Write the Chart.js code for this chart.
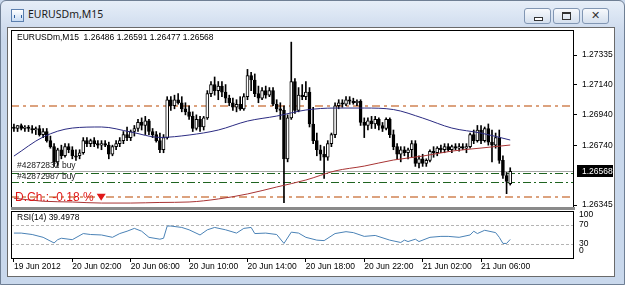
<!DOCTYPE html>
<html>
<head>
<meta charset="UTF-8">
<script src="https://cdn.jsdelivr.net/npm/chart.js@4.4.0/dist/chart.umd.min.js"></script>
<style>
    body {
        margin: 0;
        width: 625px;
        height: 285px;
        overflow: hidden;
        position: relative;
        background: #c9d8ec;
        font-family: "Liberation Sans", Arial, sans-serif;
    }
    #frame {
        position: absolute; left: 0; top: 0; width: 623px; height: 283px;
        border: 1px solid #6f7f94; border-radius: 6px 6px 0 0;
        background: linear-gradient(#e6eef8, #cfdcee 28px, #c9d8ec 40px, #c9d8ec);
    }
    #icon {
        position: absolute; left: 11px; top: 9px; width: 11px; height: 11px;
        border: 1px solid #5b7fae; background: linear-gradient(#ffffff, #c9dcf3);
    }
    #icon:after {
        content: ""; position: absolute; left: 2px; top: 5px; width: 6px; height: 3px;
        border-left: 1px solid #2f5f9f; border-right: 1px solid #2f5f9f;
    }
    #caption {
        position: absolute; left: 28px; top: 7px; font: 10.5px "Noto Sans", sans-serif; color: #1c1c1c;
    }
    .btn {
        position: absolute; top: 8px; width: 25px; height: 14px;
        border: 1px solid #8196b3; border-radius: 3px;
        background: linear-gradient(#f7f9fc, #d5e0ee);
    }
    .btn i { position: absolute; display: block; }
    #pane {
        position: absolute; left: 7px; top: 27px; width: 606px; height: 248px;
        background: #fff; border: 1px solid #6a6a6a;
    }
    canvas { position: absolute; left: 0; }
    #main { top: 28px; }
    #rsi { top: 210px; }
</style>
</head>
<body>
<div id="frame"></div>
<div id="icon"></div>
<div id="caption"></div>
<div class="btn" style="left:524px"><i style="left:9px;top:8px;width:7px;height:2px;border:1px solid #333;background:#fff"></i></div>
<div class="btn" style="left:553px"><i style="left:8px;top:3px;width:7px;height:5px;border:1px solid #333;border-top-width:2px"></i></div>
<div class="btn" style="left:582px"><i style="left:8px;top:0px;font:11px 'DejaVu Sans';color:#333">✕</i></div>
<div id="pane"></div>
<canvas id="main" width="614" height="182"></canvas>
<canvas id="rsi" width="614" height="66"></canvas>

<script>
    const symbol = 'EURUSDm,M15';
    const timeLabels = ['19 Jun 2012', '20 Jun 02:00', '20 Jun 06:00', '20 Jun 10:00', '20 Jun 14:00',
                        '20 Jun 18:00', '20 Jun 22:00', '21 Jun 02:00', '21 Jun 06:00'];
    const timeIdx = [0, 16, 32, 48, 64, 80, 96, 112, 128];
    const priceTicks = [1.27335, 1.27140, 1.26940, 1.26740, 1.26345];

    // M15 candles, 19 Jun 22:00 .. 21 Jun 08:00
    const opens = [
        1.2686,1.2685,1.2687,1.2685,1.2686,1.2685,1.2684,1.2685,1.2681,1.2683,
        1.2677,1.2673,1.2663,1.2671,1.2667,1.2673,1.2671,1.2667,1.2667,1.2669,
        1.2677,1.2675,1.2677,1.2675,1.2674,1.2675,1.2674,1.2668,1.2673,1.2675,
        1.2677,1.2681,1.2679,1.2683,1.2685,1.2689,1.2687,1.2690,1.2683,1.2681,
        1.2677,1.2671,1.2679,1.2704,1.2700,1.2704,1.2702,1.2698,1.2696,1.2693,
        1.2685,1.2691,1.2686,1.2692,1.2708,1.2714,1.2710,1.2713,1.2709,1.2705,
        1.2702,1.2699,1.2701,1.2698,1.2706,1.2720,1.2717,1.2708,1.2705,1.2710,
        1.2707,1.2710,1.2701,1.2698,1.2697,1.2665,1.2692,1.2716,1.2697,1.2707,
        1.2706,1.2709,1.2688,1.2677,1.2671,1.2668,1.2666,1.2675,1.2681,1.2700,
        1.2702,1.2701,1.2704,1.2703,1.2702,1.2703,1.2689,1.2687,1.2690,1.2688,
        1.2691,1.2687,1.2685,1.2691,1.2681,1.2673,1.2668,1.2671,1.2669,1.2671,
        1.2675,1.2662,1.2665,1.2662,1.2664,1.2670,1.2669,1.2672,1.2671,1.2673,
        1.2671,1.2673,1.2672,1.2673,1.2672,1.2673,1.2681,1.2677,1.2684,1.2677,
        1.2685,1.2676,1.2674,1.2679,1.2664,1.2654,1.26486];
    const highs = [
        1.2688,1.2687,1.2688,1.2687,1.2687,1.2687,1.2686,1.2687,1.2685,1.2685,
        1.2680,1.2675,1.2672,1.2674,1.2675,1.2675,1.2673,1.2671,1.2671,1.2679,
        1.2679,1.2678,1.2679,1.2677,1.2677,1.2677,1.2676,1.2674,1.2677,1.2679,
        1.2683,1.2686,1.2684,1.2687,1.2691,1.2692,1.2693,1.2691,1.2685,1.2683,
        1.2682,1.2681,1.2706,1.2706,1.2707,1.2708,1.2706,1.2702,1.2700,1.2696,
        1.2694,1.2693,1.2693,1.2710,1.2716,1.2719,1.2716,1.2716,1.2714,1.2707,
        1.2705,1.2704,1.2706,1.2708,1.2724,1.2722,1.2721,1.2713,1.2712,1.2713,
        1.2712,1.2712,1.2704,1.2702,1.2700,1.2694,1.2742,1.2718,1.2712,1.2714,
        1.2716,1.2712,1.2699,1.2682,1.2674,1.2673,1.2677,1.2682,1.2702,1.2704,
        1.2704,1.2706,1.2706,1.2705,1.2704,1.2704,1.2692,1.2692,1.2693,1.2693,
        1.2692,1.2689,1.2692,1.2692,1.2684,1.2675,1.2673,1.2673,1.2672,1.2677,
        1.2677,1.2667,1.2668,1.2665,1.2671,1.2673,1.2673,1.2674,1.2675,1.2675,
        1.2674,1.2675,1.2675,1.2675,1.2675,1.2682,1.2684,1.2687,1.2687,1.2686,
        1.2688,1.2684,1.2682,1.2684,1.2667,1.2656,1.26591];
    const lows = [
        1.2683,1.2683,1.2684,1.2683,1.2683,1.2682,1.2681,1.2680,1.2679,1.2676,
        1.2672,1.2660,1.2660,1.2665,1.2666,1.2669,1.2665,1.2664,1.2665,1.2668,
        1.2673,1.2673,1.2673,1.2672,1.2671,1.2673,1.2665,1.2667,1.2671,1.2673,
        1.2675,1.2677,1.2677,1.2680,1.2683,1.2684,1.2681,1.2681,1.2679,1.2676,
        1.2669,1.2669,1.2678,1.2697,1.2698,1.2701,1.2696,1.2694,1.2691,1.2683,
        1.2684,1.2683,1.2684,1.2691,1.2706,1.2707,1.2704,1.2706,1.2702,1.2700,
        1.2697,1.2696,1.2697,1.2697,1.2704,1.2710,1.2706,1.2702,1.2704,1.2705,
        1.2706,1.2700,1.2696,1.2691,1.2636,1.2663,1.2691,1.2695,1.2696,1.2704,
        1.2704,1.2686,1.2675,1.2667,1.2664,1.2652,1.2664,1.2673,1.2679,1.2698,
        1.2699,1.2700,1.2701,1.2701,1.2700,1.2687,1.2679,1.2684,1.2685,1.2685,
        1.2684,1.2683,1.2684,1.2679,1.2671,1.2665,1.2663,1.2667,1.2665,1.2666,
        1.2660,1.2659,1.2660,1.2660,1.2663,1.2666,1.2667,1.2669,1.2669,1.2670,
        1.2669,1.2671,1.2670,1.2671,1.2669,1.2672,1.2675,1.2676,1.2675,1.2676,
        1.2674,1.2663,1.2672,1.2662,1.2652,1.2642,1.26477];
    const closes = [
        1.2685,1.2687,1.2685,1.2686,1.2685,1.2684,1.2685,1.2681,1.2683,1.2677,
        1.2673,1.2663,1.2671,1.2667,1.2673,1.2671,1.2667,1.2666,1.2669,1.2677,
        1.2675,1.2677,1.2675,1.2674,1.2675,1.2674,1.2668,1.2673,1.2675,1.2677,
        1.2681,1.2679,1.2683,1.2685,1.2689,1.2687,1.2690,1.2683,1.2681,1.2677,
        1.2671,1.2679,1.2704,1.2700,1.2704,1.2702,1.2698,1.2696,1.2693,1.2685,
        1.2691,1.2686,1.2692,1.2708,1.2714,1.2710,1.2713,1.2709,1.2705,1.2702,
        1.2699,1.2701,1.2698,1.2706,1.2720,1.2717,1.2708,1.2705,1.2710,1.2707,
        1.2710,1.2701,1.2698,1.2697,1.2665,1.2692,1.2716,1.2697,1.2707,1.2706,
        1.2709,1.2688,1.2677,1.2671,1.2668,1.2666,1.2675,1.2681,1.2700,1.2702,
        1.2701,1.2704,1.2703,1.2702,1.2703,1.2689,1.2687,1.2690,1.2688,1.2691,
        1.2687,1.2685,1.2691,1.2681,1.2673,1.2668,1.2671,1.2669,1.2671,1.2675,
        1.2662,1.2665,1.2662,1.2664,1.2670,1.2669,1.2672,1.2671,1.2673,1.2671,
        1.2673,1.2672,1.2673,1.2672,1.2673,1.2681,1.2677,1.2684,1.2677,1.2685,
        1.2676,1.2674,1.2679,1.2664,1.2654,1.2650,1.26568];

    // moving averages, read every 8 bars
    const maIdx = [0, 8, 16, 24, 32, 40, 48, 56, 64, 72, 80, 88, 96, 104, 112, 120, 128, 136];
    const maBlue = [1.26668,1.26794,1.26853,1.26860,1.26827,1.26791,1.26807,1.26840,1.26899,
                    1.26932,1.26972,1.26985,1.26985,1.26975,1.26919,1.26853,1.26820,1.26774];
    const maRed = [1.26390,1.26370,1.26365,1.26358,1.26358,1.26362,1.26365,1.26385,1.26418,
                   1.26464,1.26510,1.26570,1.26602,1.26642,1.26668,1.26701,1.26721,1.26741];

    const pivotLevels = [1.27000, 1.26400];
    const orderPrices = [1.26554, 1.26495];
    const orderLabels = ['#42872832 buy', '#42872987 buy'];
    const dayChange = 'D.Ch.: -0.18 %';

    const rsiIdx = [0,2,5,8,11,12,13,16,19,21,24,27,29,31,33,35,37,40,41,42,43,46,48,51,53,55,58,61,63,65,66,
                    69,72,74,76,78,80,83,85,88,91,93,96,99,103,106,107,108,110,111,114,117,119,122,125,126,127,
                    129,132,133,134,135,136];
    const rsiVals = [53,53,50,44,32,39,42,39,52,50,49,44,52,57,63,57,44,40,42,68,68,65,60,49,60,65,60,53,63,65,52,
                     53,50,31,55,53,44,38,37,52,56,54,46,48,38,33,38,35,40,35,44,46,46,44,49,57,52,
                     59,54,44,31,31,39.4978];
    const rsiLevels = [70, 30];
    const rsiTicks = [100, 70, 30, 0];

    const FONT = '"Liberation Sans", Arial, sans-serif';
    const X_MIN = -0.8, X_MAX = 153.2;
    const last = closes.length - 1;

    document.getElementById('caption').textContent = symbol;

    function hline(ctx, a, y) {
        ctx.beginPath();
        ctx.moveTo(a.left, y);
        ctx.lineTo(a.right, y);
        ctx.stroke();
    }
    function frame(ctx, a) {
        ctx.strokeStyle = '#000';
        ctx.lineWidth = 1;
        ctx.setLineDash([]);
        ctx.strokeRect(Math.round(a.left) + 0.5, Math.round(a.top) + 0.5,
                       Math.round(a.right - a.left), Math.round(a.bottom - a.top));
    }

    const mainOverlay = {
        id: 'mainOverlay',
        beforeDatasetsDraw(chart) {
            const {ctx, chartArea: a, scales: {y}} = chart;
            const py = v => Math.round(y.getPixelForValue(v)) + 0.5;
            ctx.save();
            ctx.lineWidth = 2;
            ctx.strokeStyle = '#dca27e';
            ctx.setLineDash([8, 4, 3, 4]);
            pivotLevels.forEach(p => hline(ctx, a, Math.round(y.getPixelForValue(p))));
            ctx.lineWidth = 1;
            ctx.strokeStyle = '#1f6420';
            ctx.setLineDash([8, 3, 2, 3]);
            orderPrices.forEach(p => hline(ctx, a, py(p)));
            ctx.setLineDash([]);
            ctx.strokeStyle = '#a8a8a8';
            hline(ctx, a, py(closes[last]));
            ctx.restore();
        },
        afterDraw(chart) {
            const {ctx, chartArea: a, scales: {y}} = chart;
            ctx.save();
            frame(ctx, a);
            // panel separator
            ctx.fillStyle = '#8a8a8a';
            ctx.fillRect(a.left, Math.round(a.bottom), a.right - a.left + 2, 3);

            ctx.textBaseline = 'middle';
            ctx.textAlign = 'left';
            ctx.fillStyle = '#000';
            ctx.font = '8.5px ' + FONT;
            const ohlc = [opens[last], highs[last], lows[last], closes[last]].map(v => v.toFixed(5)).join(' ');
            ctx.fillText(symbol + '  ' + ohlc, a.left + 6, a.top + 8);

            ctx.fillStyle = '#222';
            ctx.fillText(orderLabels[0], a.left + 6, y.getPixelForValue(orderPrices[0]) - 8);
            ctx.fillText(orderLabels[1], a.left + 6, y.getPixelForValue(orderPrices[1]) - 5.5);

            // daily change
            ctx.font = '12px ' + FONT;
            ctx.fillStyle = '#e01818';
            const dy = y.getPixelForValue(pivotLevels[1]) + 1;
            ctx.fillText(dayChange, a.left + 4, dy);
            const tx = a.left + 4 + ctx.measureText(dayChange).width + 3;
            ctx.beginPath();
            ctx.moveTo(tx, dy - 4);
            ctx.lineTo(tx + 9, dy - 4);
            ctx.lineTo(tx + 4.5, dy + 3);
            ctx.closePath();
            ctx.fill();

            // current price box
            const by = Math.round(y.getPixelForValue(closes[last]));
            ctx.fillStyle = '#000';
            ctx.fillRect(a.right + 4, by - 6, 36, 12);
            ctx.fillStyle = '#fff';
            ctx.font = '8.5px ' + FONT;
            ctx.fillText(closes[last].toFixed(5), a.right + 9, by + 0.5);
            ctx.restore();
        }
    };

    const rsiOverlay = {
        id: 'rsiOverlay',
        beforeDatasetsDraw(chart) {
            const {ctx, chartArea: a, scales: {y}} = chart;
            ctx.save();
            ctx.strokeStyle = '#b4b4b4';
            ctx.lineWidth = 1;
            ctx.setLineDash([3, 2]);
            rsiLevels.forEach(v => hline(ctx, a, Math.round(y.getPixelForValue(v)) + 0.5));
            ctx.restore();
        },
        afterDraw(chart) {
            const {ctx, chartArea: a, scales: {y}} = chart;
            ctx.save();
            frame(ctx, a);
            ctx.fillStyle = '#000';
            ctx.font = '8.5px ' + FONT;
            ctx.textBaseline = 'middle';
            ctx.fillText('RSI(14) ' + rsiVals[rsiVals.length - 1].toFixed(4), a.left + 6, a.top + 7);
            rsiTicks.forEach(v => {
                const py = Math.min(Math.max(y.getPixelForValue(v), a.top + 4), a.bottom - 7);
                ctx.fillText(String(v), a.right + 6, py);
            });
            ctx.restore();
        }
    };

    new Chart(document.getElementById('main'), {
        type: 'bar',
        data: {
            datasets: [{
                type: 'line',
                data: maIdx.map((x, i) => ({x: x, y: maBlue[i]})),
                borderColor: '#2b2b82',
                borderWidth: 1,
                pointRadius: 0,
                cubicInterpolationMode: 'monotone',
                order: 0
            }, {
                type: 'line',
                data: maIdx.map((x, i) => ({x: x, y: maRed[i]})),
                borderColor: '#a83434',
                borderWidth: 1,
                pointRadius: 0,
                cubicInterpolationMode: 'monotone',
                order: 1
            }, {
                data: opens.map((o, i) => ({x: i, y: [o, closes[i]]})),
                barThickness: 3,
                borderWidth: 1,
                borderColor: '#000',
                borderSkipped: false,
                backgroundColor: c => closes[c.dataIndex] >= opens[c.dataIndex] ? '#fff' : '#000',
                grouped: false,
                order: 2
            }, {
                data: opens.map((o, i) => ({x: i, y: [lows[i], highs[i]]})),
                barThickness: 1,
                backgroundColor: '#000',
                grouped: false,
                order: 3
            }]
        },
        options: {
            responsive: false,
            animation: false,
            layout: {padding: {left: 11, top: 2, right: 0, bottom: 3}},
            plugins: {legend: {display: false}, tooltip: {enabled: false}},
            scales: {
                x: {type: 'linear', min: X_MIN, max: X_MAX, offset: false, display: false},
                y: {
                    position: 'right',
                    min: 1.26332,
                    max: 1.27500,
                    afterBuildTicks: s => { s.ticks = priceTicks.map(v => ({value: v})); },
                    afterFit: s => { s.width = 41; s.paddingTop = 0; s.paddingBottom = 0; },
                    grid: {drawOnChartArea: false, tickLength: 4, color: '#000'},
                    border: {display: false},
                    ticks: {
                        padding: 5,
                        color: '#000',
                        font: {family: FONT, size: 8.5, lineHeight: 1},
                        callback: v => v.toFixed(5)
                    }
                }
            }
        },
        plugins: [mainOverlay]
    });

    new Chart(document.getElementById('rsi'), {
        type: 'line',
        data: {
            datasets: [{
                data: rsiIdx.map((x, i) => ({x: x, y: rsiVals[i]})),
                borderColor: '#4a82b6',
                borderWidth: 1,
                pointRadius: 0,
                tension: 0
            }]
        },
        options: {
            responsive: false,
            animation: false,
            layout: {padding: {left: 11, top: 1, right: 0, bottom: 0}},
            plugins: {legend: {display: false}, tooltip: {enabled: false}},
            scales: {
                x: {
                    type: 'linear',
                    min: X_MIN,
                    max: X_MAX,
                    offset: false,
                    afterBuildTicks: s => { s.ticks = timeIdx.map(v => ({value: v})); },
                    afterFit: s => { s.height = 18; },
                    grid: {drawOnChartArea: false, tickLength: 4, color: '#000'},
                    border: {display: false},
                    ticks: {
                        align: 'start',
                        padding: 0,
                        maxRotation: 0,
                        autoSkip: false,
                        color: '#000',
                        font: {family: FONT, size: 8.5},
                        callback: v => timeLabels[timeIdx.indexOf(v)]
                    }
                },
                y: {
                    position: 'right',
                    min: 0,
                    max: 100,
                    afterFit: s => { s.width = 41; },
                    grid: {display: false},
                    border: {display: false},
                    ticks: {display: false}
                }
            }
        },
        plugins: [rsiOverlay]
    });
</script>
</body>
</html>
